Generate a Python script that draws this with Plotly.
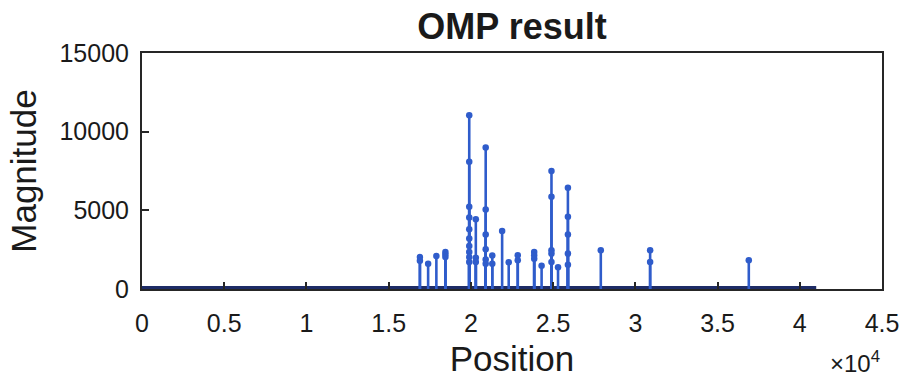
import plotly.graph_objects as go

# ---- data ----
signal_length = 41000
positions = [
    16900, 16900,
    17400,
    17900,
    18450, 18450, 18450,
    19900, 19900, 19900, 19900, 19900, 19900, 19900, 19900, 19900, 19900,
    20300, 20300, 20300,
    20900, 20900, 20900, 20900, 20900, 20900,
    21300, 21300,
    21900,
    22300,
    22850, 22850,
    23850, 23850, 23850,
    24300,
    24900, 24900, 24900, 24900, 24900,
    25300,
    25900, 25900, 25900, 25900, 25900,
    27900,
    30900, 30900,
    36900,
]
magnitudes = [
    2030, 1800,
    1610,
    2090,
    2350, 2200, 2030,
    11050, 8080, 5220, 4550, 3800, 3210, 2730, 2350, 2030, 1710,
    4440, 1990, 1710,
    9000, 5060, 3460, 2520, 1870, 1610,
    2130, 1600,
    3690,
    1700,
    2140, 1820,
    2350, 2140, 1930,
    1480,
    7500, 5860, 2460, 2250, 1710,
    1390,
    6440, 4590, 3460, 2250, 1545,
    2460,
    2460, 1710,
    1820,
]
x_tickvals = [0, 5000, 10000, 15000, 20000, 25000, 30000, 35000, 40000, 45000]
x_ticktext = ["0", "0.5", "1", "1.5", "2", "2.5", "3", "3.5", "4", "4.5"]
y_tickvals = [0, 5000, 10000, 15000]
y_ticktext = ["0", "5000", "10000", "15000"]

stem_color = "#2F5CCB"
band_color = "#1E2C66"
axis_color = "#262626"
font_family = "Liberation Sans, Arial, Helvetica, sans-serif"

# build stem segments
sx, sy = [], []
for p, m in zip(positions, magnitudes):
    sx += [p, p, None]
    sy += [0, m, None]

fig = go.Figure()
# zero-valued part of the signal (dense markers at 0 -> thick band)
fig.add_trace(go.Scatter(x=[0, signal_length], y=[0, 0], mode="lines",
                         line=dict(color=band_color, width=6), hoverinfo="skip"))
fig.add_trace(go.Scatter(x=sx, y=sy, mode="lines",
                         line=dict(color=stem_color, width=2.6), hoverinfo="skip"))
fig.add_trace(go.Scatter(x=positions, y=magnitudes, mode="markers",
                         marker=dict(color=stem_color, size=6.5,
                                     line=dict(color=stem_color, width=0))))

fig.update_layout(
    width=911, height=384,
    margin=dict(l=142, r=21, t=53, b=95),
    paper_bgcolor="white", plot_bgcolor="white",
    showlegend=False,
    font=dict(family=font_family, color="#1a1a1a"),
    title=dict(text="<b>OMP result</b>", x=0.5, xref="paper", xanchor="center",
               y=0.93, yanchor="middle", font=dict(size=36, color="#1a1a1a")),
)
fig.update_xaxes(
    range=[0, 45000], tickvals=x_tickvals, ticktext=x_ticktext,
    ticks="inside", ticklen=7, tickwidth=1.5, tickcolor=axis_color,
    showline=True, linecolor=axis_color, linewidth=2, mirror=True,
    showgrid=False, zeroline=False,
    tickfont=dict(size=25, color="#1a1a1a"), ticklabelstandoff=11,
    title=dict(text="Position", font=dict(size=35, color="#1a1a1a"), standoff=10),
)
fig.update_yaxes(
    range=[0, 15000], tickvals=y_tickvals, ticktext=y_ticktext,
    ticks="inside", ticklen=7, tickwidth=1.5, tickcolor=axis_color,
    showline=True, linecolor=axis_color, linewidth=2, mirror=True,
    showgrid=False, zeroline=False,
    tickfont=dict(size=25, color="#1a1a1a"), ticklabelstandoff=6,
    title=dict(text="Magnitude", font=dict(size=35, color="#1a1a1a"), standoff=12),
)
fig.add_annotation(text="×10<sup>4</sup>", xref="paper", yref="paper",
                   x=1.0, y=-0.31, xanchor="right", yanchor="middle",
                   showarrow=False, font=dict(size=24, color="#1a1a1a"))

fig.write_html("out.html")
